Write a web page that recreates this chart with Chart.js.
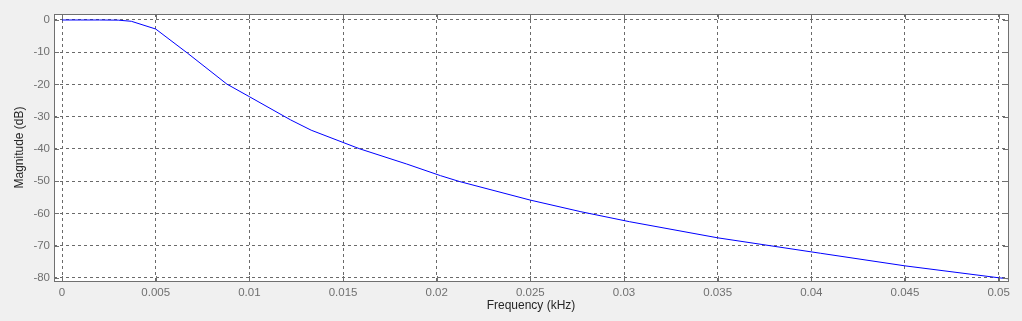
<!DOCTYPE html>
<html>
<head>
<meta charset="utf-8">
<script src="https://cdn.jsdelivr.net/npm/chart.js@4"></script>
<style>
  html, body { margin: 0; padding: 0; background: #f0f0f0; }
  #wrap { width: 1022px; height: 321px; }
</style>
</head>
<body>
<div id="wrap"><canvas id="chart" width="1022" height="321"></canvas></div>
<script>
/* ── data ── */
const freq = [0, 0.001, 0.002, 0.003, 0.0037, 0.005, 0.0067, 0.0088, 0.01, 0.0122, 0.0133,
              0.015, 0.0159, 0.0184, 0.0202, 0.0212, 0.025, 0.0277, 0.0303, 0.035, 0.0405,
              0.045, 0.05, 0.0505];
const mag  = [0, 0, 0, -0.05, -0.4, -2.8, -10.3, -19.9, -23.8, -31.0, -34.2,
              -38.0, -40.0, -44.7, -48.3, -50.1, -55.9, -59.5, -62.6, -67.6, -72.4,
              -76.3, -80.0, -80.3];
const xTicks = [0, 0.005, 0.01, 0.015, 0.02, 0.025, 0.03, 0.035, 0.04, 0.045, 0.05];
const yTicks = [0, -10, -20, -30, -40, -50, -60, -70, -80];

const AXIS = '#707070';

/* ── white plot area, box and inner tick marks ── */
const boxPlugin = {
  id: 'box',
  beforeDraw(chart) {
    const a = chart.chartArea, ctx = chart.ctx;
    ctx.save();
    ctx.fillStyle = '#ffffff';
    ctx.fillRect(a.left, a.top, a.right - a.left, a.bottom - a.top);
    ctx.restore();
  },
  afterDraw(chart) {
    const a = chart.chartArea, ctx = chart.ctx;
    const xs = chart.scales.x, ys = chart.scales.y;
    ctx.save();
    ctx.strokeStyle = AXIS;
    ctx.lineWidth = 1;
    ctx.strokeRect(Math.round(a.left) + 0.5, Math.round(a.top) + 0.5,
                   Math.round(a.right - a.left), Math.round(a.bottom - a.top));
    ctx.beginPath();
    xTicks.forEach(v => {
      const px = Math.round(xs.getPixelForValue(v)) + 0.5;
      ctx.moveTo(px, a.bottom); ctx.lineTo(px, a.bottom - 5);
      ctx.moveTo(px, a.top);    ctx.lineTo(px, a.top + 5);
    });
    yTicks.forEach(v => {
      const py = Math.round(ys.getPixelForValue(v)) + 0.5;
      ctx.moveTo(a.left, py);  ctx.lineTo(a.left + 5, py);
      ctx.moveTo(a.right, py); ctx.lineTo(a.right - 5, py);
    });
    ctx.stroke();
    ctx.restore();
  }
};

const gridOpts = { color: '#6a6a6a', lineWidth: 1, drawTicks: false };
const borderOpts = { display: false, dash: [3, 3] };

new Chart(document.getElementById('chart'), {
  type: 'scatter',
  data: {
    datasets: [{
      data: freq.map((f, i) => ({ x: f, y: mag[i] })),
      showLine: true,
      borderColor: '#0000ff',
      borderWidth: 1,
      pointRadius: 0,
      tension: 0
    }]
  },
  options: {
    responsive: false,
    animation: false,
    layout: { padding: { top: 14, right: 14, left: 0, bottom: 0 } },
    plugins: { legend: { display: false }, tooltip: { enabled: false } },
    scales: {
      x: {
        type: 'linear',
        min: -0.00043, max: 0.0505,
        grid: gridOpts,
        border: borderOpts,
        afterBuildTicks: s => { s.ticks = xTicks.map(v => ({ value: v })); },
        afterFit: s => { s.height = 40; },
        ticks: {
          padding: 5, maxRotation: 0, autoSkip: false,
          color: AXIS, font: { family: 'Liberation Sans, Arial', size: 11.5 },
          callback: v => String(v)
        },
        title: {
          display: true, text: 'Frequency (kHz)', color: '#262626',
          font: { family: 'Liberation Sans, Arial', size: 12 },
          padding: { top: 0, bottom: 8 }
        }
      },
      y: {
        type: 'linear',
        min: -81, max: 1.86,
        grid: gridOpts,
        border: borderOpts,
        afterBuildTicks: s => { s.ticks = yTicks.map(v => ({ value: v })); },
        afterFit: s => { s.width = 54; },
        ticks: {
          padding: 4, autoSkip: false,
          color: AXIS, font: { family: 'Liberation Sans, Arial', size: 11.5 },
          callback: v => String(v)
        },
        title: {
          display: true, text: 'Magnitude (dB)', color: '#262626',
          font: { family: 'Liberation Sans, Arial', size: 12 },
          padding: { top: 12, bottom: 0 }
        }
      }
    }
  },
  plugins: [boxPlugin]
});
</script>
</body>
</html>
